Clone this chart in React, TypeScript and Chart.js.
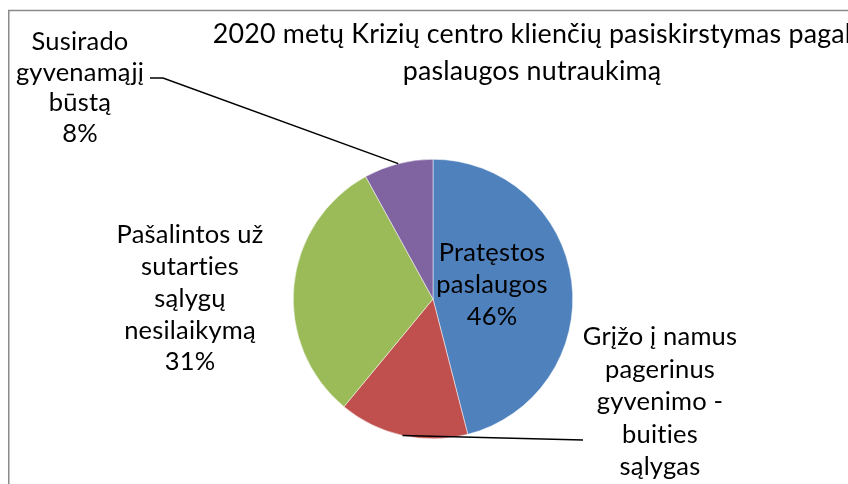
import React, { useEffect, useRef } from "react";
import { Chart, registerables } from "chart.js";

Chart.register(...registerables);

// ---- data ----
const TITLE_LINES = [
  "2020 metų Krizių centro klienčių pasiskirstymas pagal",
  "paslaugos nutraukimą",
];
const CATEGORIES = [
  "Pratęstos paslaugos",
  "Grįžo į namus pagerinus gyvenimo - buities sąlygas",
  "Pašalintos už sutarties sąlygų nesilaikymą",
  "Susirado gyvenamąjį būstą",
];
const LABEL_LINES = [
  ["Pratęstos", "paslaugos"],
  ["Grįžo į namus", "pagerinus", "gyvenimo -", "buities", "sąlygas"],
  ["Pašalintos už", "sutarties", "sąlygų", "nesilaikymą"],
  ["Susirado", "gyvenamąjį", "būstą"],
];
const VALUES = [46, 15, 31, 8];
const COLORS = ["#4F81BD", "#C0504D", "#9BBB59", "#8064A2"];

// ---- layout (positions / styles only) ----
const FONT_FAMILY = "Lato, 'Open Sans', sans-serif";
const TITLE_FONT = `26.8px ${FONT_FAMILY}`;
const LABEL_FONT = `25.5px ${FONT_FAMILY}`;
const TITLE_LAYOUT = { x: 532, y: 34, lineHeight: 37 };
const LABEL_LAYOUT = [
  { x: 492, y: 253, lineHeight: 32 },
  { x: 660, y: 337, lineHeight: 32.5 },
  { x: 190, y: 235, lineHeight: 31.8 },
  { x: 80, y: 42, lineHeight: 30.5 },
];
const LEADERS: Record<number, number[][]> = {
  1: [[583, 440]],
  3: [
    [150, 78],
    [163, 78],
  ],
};

const overlayPlugin = {
  id: "overlay",
  afterDraw(chart: any) {
    const ctx = chart.ctx as any;
    ctx.save();
    // frame
    ctx.strokeStyle = "#8a8a8a";
    ctx.lineWidth = 1.5;
    ctx.strokeRect(8.75, 10.5, 2000, 2000);

    ctx.fillStyle = "#000";
    ctx.textAlign = "center";
    ctx.textBaseline = "middle";
    ctx.letterSpacing = "0.2px";
    ctx.font = TITLE_FONT;
    TITLE_LINES.forEach((t, i) => {
      ctx.fillText(t, TITLE_LAYOUT.x, TITLE_LAYOUT.y + i * TITLE_LAYOUT.lineHeight);
    });

    const meta = chart.getDatasetMeta(0);
    const total = VALUES.reduce((a, b) => a + b, 0);
    ctx.font = LABEL_FONT;
    meta.data.forEach((arc: any, i: number) => {
      const L = LABEL_LAYOUT[i];
      const lines = [...LABEL_LINES[i], `${Math.round((VALUES[i] / total) * 100)}%`];
      lines.forEach((t, j) => ctx.fillText(t, L.x, L.y + j * L.lineHeight));
      const pts = LEADERS[i];
      if (pts) {
        const { x, y, startAngle, endAngle, outerRadius } = arc.getProps(
          ["x", "y", "startAngle", "endAngle", "outerRadius"],
          true
        );
        const mid = (startAngle + endAngle) / 2;
        const ex = x + Math.cos(mid) * outerRadius;
        const ey = y + Math.sin(mid) * outerRadius;
        ctx.beginPath();
        ctx.strokeStyle = "#000";
        ctx.lineWidth = 1.5;
        ctx.moveTo(pts[0][0], pts[0][1]);
        for (let k = 1; k < pts.length; k++) ctx.lineTo(pts[k][0], pts[k][1]);
        ctx.lineTo(ex, ey);
        ctx.stroke();
      }
    });
    ctx.restore();
  },
};

export default function App() {
  const ref = useRef<HTMLCanvasElement>(null);
  useEffect(() => {
    document.body.style.margin = "0";
    const chart = new Chart(ref.current!, {
      type: "pie",
      data: {
        labels: CATEGORIES,
        datasets: [
          {
            data: VALUES,
            backgroundColor: COLORS,
            borderColor: "#ffffff",
            borderWidth: 0.5,
          },
        ],
      },
      options: {
        animation: false,
        responsive: false,
        events: [],
        layout: { padding: { left: 293, right: 275, top: 159, bottom: 45 } },
        plugins: {
          legend: { display: false },
          title: { display: false },
          tooltip: { enabled: false },
        },
      },
      plugins: [overlayPlugin],
    });
    return () => chart.destroy();
  }, []);
  return (
    <div style={{ width: 848, height: 484, background: "#fff" }}>
      <canvas ref={ref} width={848} height={484} />
    </div>
  );
}
